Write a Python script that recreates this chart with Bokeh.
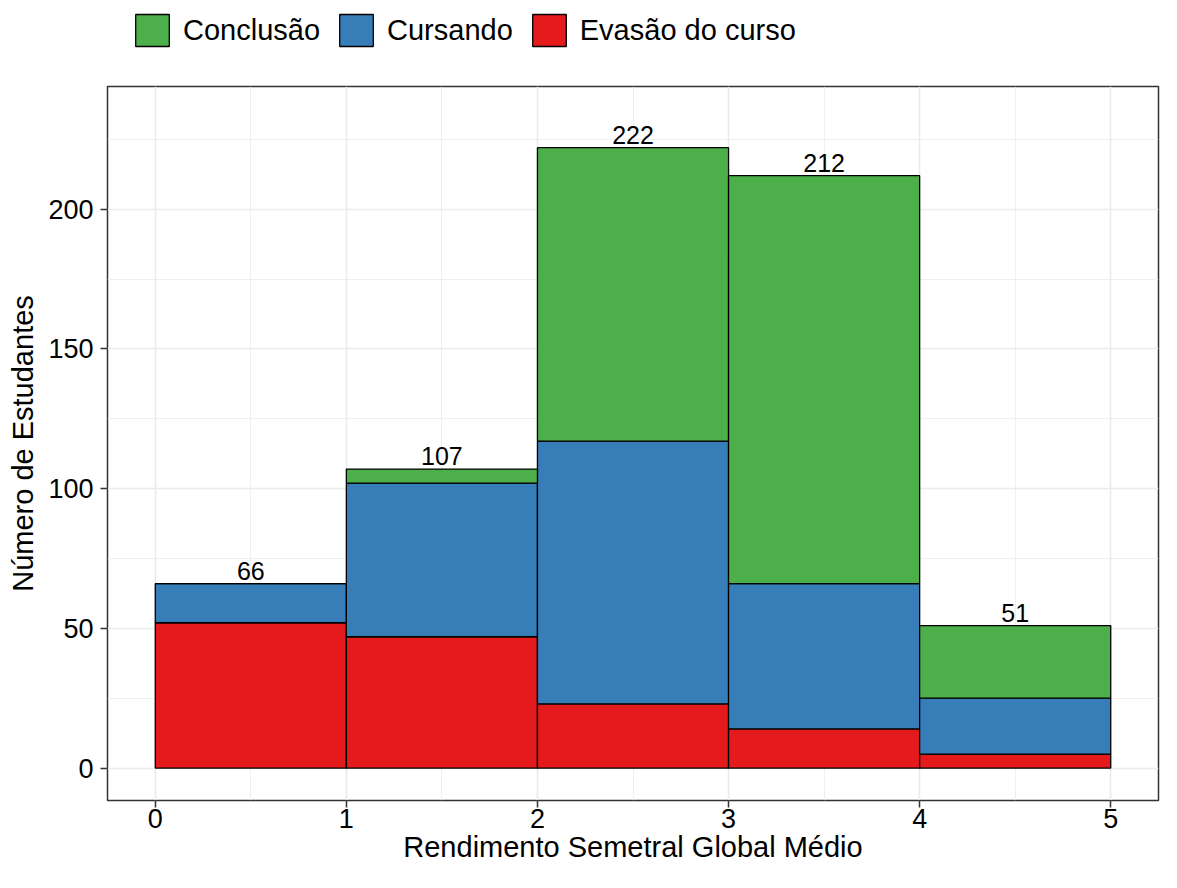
from bokeh.plotting import figure
from bokeh.layouts import column
from bokeh.models import ColumnDataSource, FixedTicker, Range1d, Legend, LegendItem
from bokeh.embed import file_html
from bokeh.resources import INLINE
from bokeh.core.properties import value

# ---- data ----
bin_left = [0, 1, 2, 3, 4]
bin_right = [1, 2, 3, 4, 5]
evasao = [52, 47, 23, 14, 5]
cursando = [14, 55, 94, 52, 20]
conclusao = [0, 5, 105, 146, 26]
x_ticks = [0, 1, 2, 3, 4, 5]
y_ticks = [0, 50, 100, 150, 200]
series_names = ["Conclusão", "Cursando", "Evasão do curso"]
colors = {"Conclusão": "#4DAF4A", "Cursando": "#377EB8", "Evasão do curso": "#E41A1C"}

FONT = "Liberation Sans"
W = 1161
LEG_H = 56
MAIN_H = 816

centers = [(a + b) / 2 for a, b in zip(bin_left, bin_right)]
totals = [e + c + k for e, c, k in zip(evasao, cursando, conclusao)]
src = ColumnDataSource(dict(
    x=centers, left=bin_left, right=bin_right,
    ev=evasao, cu=cursando, co=conclusao,
    total=totals, label=[str(t) for t in totals],
))

# ---- main plot ----
p = figure(width=W, height=MAIN_H, output_backend="svg", toolbar_location=None,
           x_range=Range1d(-0.25, 5.25), y_range=Range1d(-11.6, 243.9),
           min_border_left=107, min_border_right=3, min_border_top=30,
           min_border_bottom=72)

p.vbar_stack(["ev", "cu", "co"], x="x", width=1.0, source=src,
             fill_color=[colors["Evasão do curso"], colors["Cursando"], colors["Conclusão"]],
             line_color="black", line_width=1.3)

p.text(x="x", y="total", text="label", source=src, text_align="center",
       text_baseline="bottom", y_offset=-4, text_font=value(FONT),
       text_font_size="25px", text_color="black")

p.xaxis.ticker = FixedTicker(ticks=x_ticks, minor_ticks=[0.5, 1.5, 2.5, 3.5, 4.5])
p.yaxis.ticker = FixedTicker(ticks=y_ticks, minor_ticks=[25, 75, 125, 175, 225])
for ax in (p.xaxis, p.yaxis):
    ax.axis_line_color = None
    ax.major_tick_line_color = "#333333"
    ax.major_tick_line_width = 1.5
    ax.major_tick_out = 7
    ax.major_tick_in = 0
    ax.minor_tick_line_color = None
    ax.major_label_text_font = FONT
    ax.major_label_text_font_size = "27px"
    ax.major_label_text_color = "black"
    ax.axis_label_text_font = FONT
    ax.axis_label_text_font_size = "29px"
    ax.axis_label_text_font_style = "normal"
    ax.axis_label_text_color = "black"
p.xaxis.axis_label = "Rendimento Semetral Global Médio"
p.yaxis.axis_label = "Número de Estudantes"
p.xaxis.major_label_standoff = 1
p.yaxis.major_label_standoff = 7
p.xaxis.axis_label_standoff = 0
p.yaxis.axis_label_standoff = 6

for g in (p.xgrid, p.ygrid):
    g.grid_line_color = "#EBEBEB"
    g.grid_line_width = 1.6
    g.minor_grid_line_color = "#EBEBEB"
    g.minor_grid_line_width = 0.8

p.outline_line_color = "#333333"
p.outline_line_width = 1.5
p.background_fill_color = "white"

# ---- legend strip (separate figure so it is not clipped) ----
pl = figure(width=W, height=LEG_H, output_backend="svg", toolbar_location=None,
            x_axis_type=None, y_axis_type=None, x_range=Range1d(0, 1), y_range=Range1d(0, 1),
            min_border=0, outline_line_color=None)
pl.grid.visible = False
items = []
for name in series_names:
    # off-screen placeholder glyph so that the legend swatch is drawn
    r = pl.rect(x=[-5], y=[-5], width=0.1, height=0.1, fill_color=colors[name],
                line_color="black", line_width=1.3)
    items.append(LegendItem(label=name, renderers=[r]))
legend = Legend(items=items, orientation="horizontal", location=(24, 6),
                glyph_width=42, glyph_height=40, label_standoff=10, spacing=15,
                padding=0, margin=0, border_line_color=None,
                label_text_font=FONT, label_text_font_size="29px",
                label_text_color="black", background_fill_alpha=0)
pl.add_layout(legend)

layout = column(pl, p, spacing=0)
open("out.html", "w").write(file_html(layout, INLINE))
